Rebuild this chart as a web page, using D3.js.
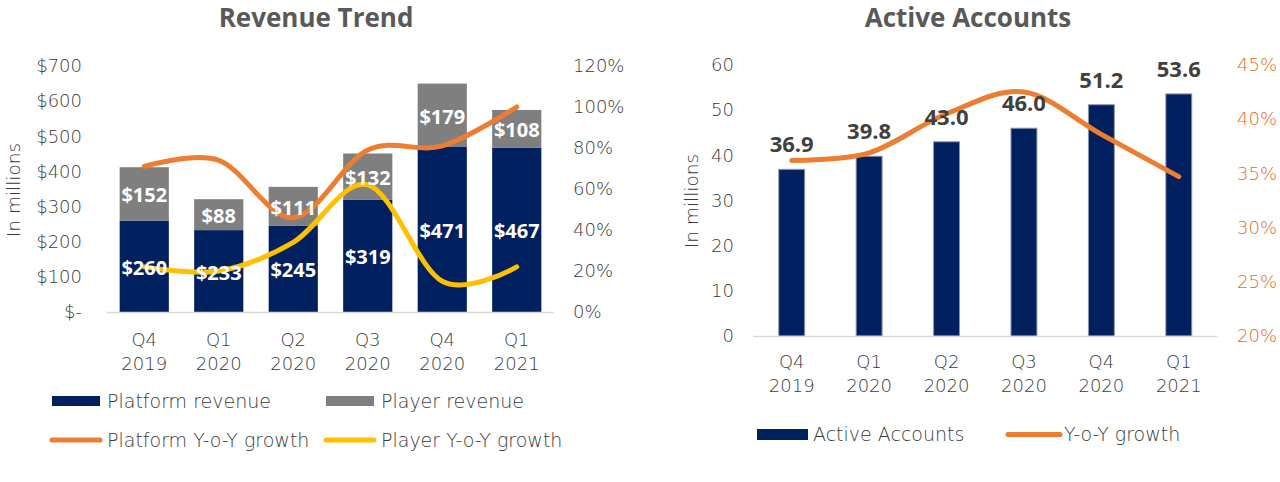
<!DOCTYPE html>
<html>
<head>
<meta charset="utf-8">
<script src="https://cdn.jsdelivr.net/npm/d3@7"></script>
<style>
	body { margin: 0; background: #fff; }
	svg text { font-family: "DejaVu Sans", sans-serif; font-weight: 200; }
	svg text.bold { font-family: "Open Sans", sans-serif; font-weight: bold; }
</style>
</head>
<body>
<script>
// chart data
const quarters = ["Q4 2019", "Q1 2020", "Q2 2020", "Q3 2020", "Q4 2020", "Q1 2021"];
const platformRevenue = [260, 233, 245, 319, 471, 467];
const playerRevenue = [152, 88, 111, 132, 179, 108];
const platformGrowth = [0.71, 0.74, 0.46, 0.79, 0.81, 1.00];
const playerGrowth = [0.22, 0.20, 0.34, 0.62, 0.15, 0.22];
const activeAccounts = [36.9, 39.8, 43.0, 46.0, 51.2, 53.6];
const accountsGrowth = [0.362, 0.369, 0.405, 0.425, 0.386, 0.347];

const revenueTicks = [0, 100, 200, 300, 400, 500, 600, 700];
const revenuePctTicks = [0, 0.2, 0.4, 0.6, 0.8, 1.0, 1.2];
const accountTicks = [0, 10, 20, 30, 40, 50, 60];
const accountPctTicks = [0.20, 0.25, 0.30, 0.35, 0.40, 0.45];

const NAVY = "#002060", GREY = "#7F7F7F", ORANGE = "#ED7D31", YELLOW = "#FFC000";
const TEXT = "#595959";
const THIN = "#3A3A3A"; // darker fill for the extra-light face

const svg = d3.select("body").append("svg")
	.attr("width", 1280)
	.attr("height", 482);

const smooth = d3.curveCatmullRom.alpha(0);

function xLabels(g, x, y0) {
	quarters.forEach(q => {
		const [a, b] = q.split(" ");
		const cx = x(q) + x.bandwidth() / 2;
		const t = g.append("text")
			.attr("x", cx)
			.attr("y", y0)
			.attr("text-anchor", "middle")
			.attr("font-size", 18)
			.attr("fill", THIN);
		t.append("tspan").attr("x", cx).text(a);
		t.append("tspan").attr("x", cx).attr("dy", 24).text(b);
	});
}

function styleAxis(g, color) {
	g.select(".domain").remove();
	g.selectAll("text")
		.attr("font-size", 18)
		.attr("fill", color)
		.attr("font-family", null);
}

// ---------- Revenue Trend ----------
{
	const g = svg.append("g").attr("id", "revenue");

	const x = d3.scaleBand().domain(quarters).range([107, 554]).paddingInner(0.34).paddingOuter(0.17);
	const y = d3.scaleLinear().domain([0, 700]).range([312, 66]);
	const yr = d3.scaleLinear().domain([0, 1.2]).range([312, 66]);

	g.append("text")
		.attr("class", "bold")
		.attr("x", 316).attr("y", 27)
		.attr("text-anchor", "middle")
		.attr("font-size", 26)
		.attr("fill", TEXT)
		.text("Revenue Trend");

	g.append("g")
		.attr("transform", "translate(88,0)")
		.call(d3.axisLeft(y).tickValues(revenueTicks).tickSize(0).tickPadding(6)
			.tickFormat(d => d === 0 ? "$-" : "$" + d))
		.call(a => styleAxis(a, THIN));

	g.append("g")
		.attr("transform", "translate(567,0)")
		.call(d3.axisRight(yr).tickValues(revenuePctTicks).tickSize(0).tickPadding(6)
			.tickFormat(d3.format(".0%")))
		.call(a => styleAxis(a, THIN));

	g.append("text")
		.attr("transform", "translate(20,190) rotate(-90)")
		.attr("text-anchor", "middle")
		.attr("font-size", 18.5)
		.attr("fill", THIN)
		.text("In millions");

	const rows = quarters.map((q, i) => ({ q, platform: platformRevenue[i], player: playerRevenue[i] }));
	const stacked = d3.stack().keys(["platform", "player"])(rows);
	const colors = { platform: NAVY, player: GREY };

	g.append("g").selectAll("g")
		.data(stacked)
		.join("g")
		.attr("fill", s => colors[s.key])
		.selectAll("rect")
		.data(s => s)
		.join("rect")
		.attr("x", d => x(d.data.q))
		.attr("y", d => y(d[1]))
		.attr("width", x.bandwidth())
		.attr("height", d => y(d[0]) - y(d[1]));

	g.append("line")
		.attr("x1", 107).attr("x2", 554)
		.attr("y1", 312.5).attr("y2", 312.5)
		.attr("stroke", "#D9D9D9")
		.attr("stroke-width", 1.5);

	const line = d3.line()
		.x((d, i) => x(quarters[i]) + x.bandwidth() / 2)
		.y(d => yr(d))
		.curve(smooth);

	g.append("path")
		.attr("d", line(platformGrowth))
		.attr("fill", "none")
		.attr("stroke", ORANGE)
		.attr("stroke-width", 5)
		.attr("stroke-linecap", "round");

	g.append("path")
		.attr("d", line(playerGrowth))
		.attr("fill", "none")
		.attr("stroke", YELLOW)
		.attr("stroke-width", 5)
		.attr("stroke-linecap", "round");

	// segment labels
	g.append("g").selectAll("g")
		.data(stacked)
		.join("g")
		.selectAll("text")
		.data(s => s)
		.join("text")
		.attr("class", "bold")
		.attr("x", d => x(d.data.q) + x.bandwidth() / 2)
		.attr("y", d => (y(d[0]) + y(d[1])) / 2 + 1.5)
		.attr("dy", "0.35em")
		.attr("text-anchor", "middle")
		.attr("font-size", 20)
		.attr("fill", "white")
		.text(d => "$" + (d[1] - d[0]));

	xLabels(g, x, 346);

	// legend
	const leg = g.append("g");
	const legendItems = [
		{ label: "Platform revenue", type: "rect", color: NAVY, x: 52, y: 401 },
		{ label: "Player revenue", type: "rect", color: GREY, x: 326, y: 401 },
		{ label: "Platform Y-o-Y growth", type: "line", color: ORANGE, x: 52, y: 440 },
		{ label: "Player Y-o-Y growth", type: "line", color: YELLOW, x: 326, y: 440 }
	];
	legendItems.forEach(it => {
		if (it.type === "rect") {
			leg.append("rect").attr("x", it.x).attr("y", it.y - 5).attr("width", 48).attr("height", 10).attr("fill", it.color);
		} else {
			leg.append("line").attr("x1", it.x).attr("x2", it.x + 48).attr("y1", it.y).attr("y2", it.y)
				.attr("stroke", it.color).attr("stroke-width", 5).attr("stroke-linecap", "round");
		}
		leg.append("text").attr("x", it.x + 55).attr("y", it.y).attr("dy", "0.35em")
			.attr("font-size", 19).attr("fill", THIN).text(it.label);
	});
}

// ---------- Active Accounts ----------
{
	const g = svg.append("g").attr("id", "accounts");

	const x = d3.scaleBand().domain(quarters).range([753, 1217.5]).paddingInner(0.665).paddingOuter(0.3325);
	const y = d3.scaleLinear().domain([0, 60]).range([336, 65]);
	const yr = d3.scaleLinear().domain([0.20, 0.45]).range([336, 65]);

	g.append("text")
		.attr("class", "bold")
		.attr("x", 968).attr("y", 27)
		.attr("text-anchor", "middle")
		.attr("font-size", 26)
		.attr("fill", TEXT)
		.text("Active Accounts");

	g.append("g")
		.attr("transform", "translate(740,0)")
		.call(d3.axisLeft(y).tickValues(accountTicks).tickSize(0).tickPadding(6))
		.call(a => styleAxis(a, THIN));

	g.append("g")
		.attr("transform", "translate(1231,0)")
		.call(d3.axisRight(yr).tickValues(accountPctTicks).tickSize(0).tickPadding(6)
			.tickFormat(d3.format(".0%")))
		.call(a => styleAxis(a, "#E8691E"));

	g.append("text")
		.attr("transform", "translate(698,201) rotate(-90)")
		.attr("text-anchor", "middle")
		.attr("font-size", 18.5)
		.attr("fill", THIN)
		.text("In millions");

	g.append("g").selectAll("rect")
		.data(activeAccounts)
		.join("rect")
		.attr("x", (d, i) => x(quarters[i]))
		.attr("y", d => y(d))
		.attr("width", x.bandwidth())
		.attr("height", d => y(0) - y(d))
		.attr("fill", NAVY)
		.attr("stroke", "#8C96AA")
		.attr("stroke-width", 1);

	g.append("line")
		.attr("x1", 753).attr("x2", 1217.5)
		.attr("y1", 336.5).attr("y2", 336.5)
		.attr("stroke", "#D9D9D9")
		.attr("stroke-width", 1.5);

	const line = d3.line()
		.x((d, i) => x(quarters[i]) + x.bandwidth() / 2)
		.y(d => yr(d))
		.curve(smooth);

	g.append("path")
		.attr("d", line(accountsGrowth))
		.attr("fill", "none")
		.attr("stroke", ORANGE)
		.attr("stroke-width", 5)
		.attr("stroke-linecap", "round");

	g.append("g").selectAll("text")
		.data(activeAccounts)
		.join("text")
		.attr("class", "bold")
		.attr("x", (d, i) => x(quarters[i]) + x.bandwidth() / 2)
		.attr("y", d => y(d) - 17)
		.attr("text-anchor", "middle")
		.attr("font-size", 22)
		.attr("fill", "#404040")
		.text(d => d.toFixed(1));

	xLabels(g, x, 368);

	const leg = g.append("g");
	leg.append("rect").attr("x", 757).attr("y", 429).attr("width", 51).attr("height", 11).attr("fill", NAVY);
	leg.append("text").attr("x", 813).attr("y", 434.5).attr("dy", "0.35em").attr("font-size", 19).attr("fill", THIN).text("Active Accounts");
	leg.append("line").attr("x1", 1008).attr("x2", 1060).attr("y1", 434.5).attr("y2", 434.5)
		.attr("stroke", ORANGE).attr("stroke-width", 5).attr("stroke-linecap", "round");
	leg.append("text").attr("x", 1064).attr("y", 434.5).attr("dy", "0.35em").attr("font-size", 19).attr("fill", THIN).text("Y-o-Y growth");
}
</script>
</body>
</html>
